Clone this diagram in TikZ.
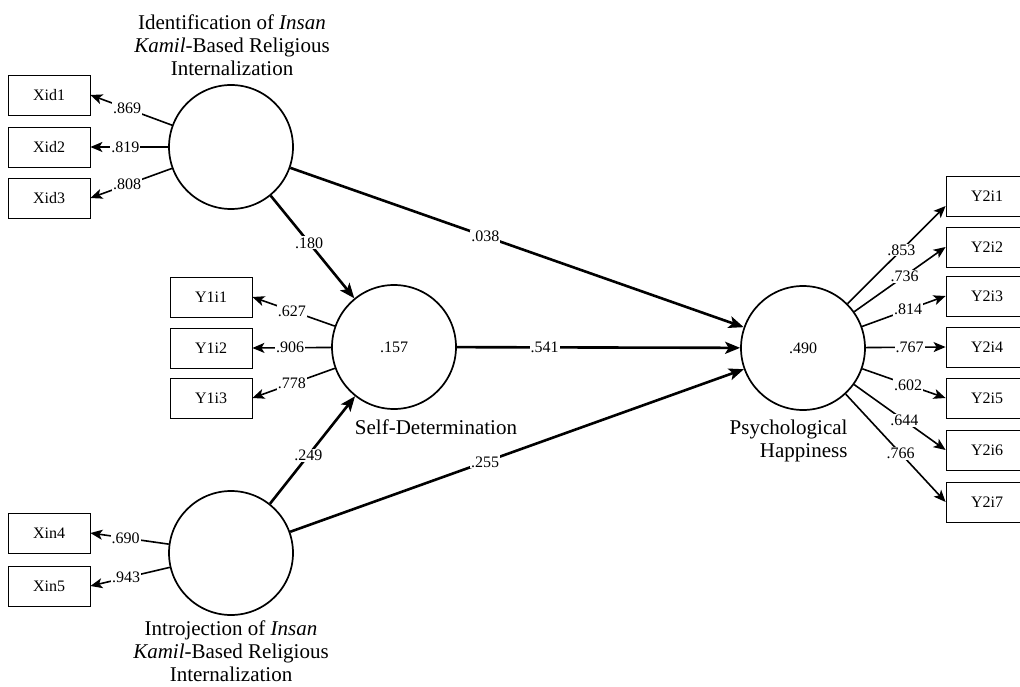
\documentclass[tikz,border=0pt]{standalone}
\usepackage{fontspec}
\setmainfont{Liberation Serif}
\usetikzlibrary{arrows.meta}

\begin{document}
\begin{tikzpicture}[x=1pt,y=-1pt,
    latent/.style={circle,draw,line width=1.7pt,minimum size=124pt,inner sep=0pt,font=\fontsize{16}{18}\selectfont},
    ind/.style={rectangle,draw,line width=0.8pt,minimum width=82pt,minimum height=40pt,font=\fontsize{16}{18}\selectfont},
    load/.style={line width=1.6pt,-{Stealth[length=12pt,width=10pt,inset=3pt]}},
    struct/.style={line width=2.6pt,-{Stealth[length=15pt,width=12pt,inset=3.5pt]}},
    coef/.style={fill=white,inner sep=1pt,font=\fontsize{16}{18}\selectfont},
    lvname/.style={align=center,font=\fontsize{21}{23}\selectfont}]
  \useasboundingbox[fill=white] (0,0) rectangle (1020,687);

  % latent variables
  \node[latent] (id) at (231,147) {};
  \node[latent] (sd) at (394,347) {.157};
  \node[latent] (in) at (231,553) {};
  \node[latent] (ph) at (803,348) {.490};

  % indicators
  \foreach \n/\y in {1/95,2/147,3/198}
    \node[ind] (xid\n) at (49,\y) {Xid\n};
  \foreach \n/\y in {1/297,2/348,3/398}
    \node[ind] (y1i\n) at (211,\y) {Y1i\n};
  \foreach \n/\y in {4/533,5/586}
    \node[ind] (xin\n) at (49,\y) {Xin\n};
  \foreach \n/\y in {1/196,2/247,3/296,4/347,5/398,6/450,7/502}
    \node[ind] (y2i\n) at (987,\y) {Y2i\n};

  % outer loadings
  \foreach \n/\v in {1/.869,2/.819,3/.808}
    \draw[load] (id) -- node[coef,pos=.55] {\v} (xid\n.east);
  \foreach \n/\v in {1/.627,2/.906,3/.778}
    \draw[load] (sd) -- node[coef,pos=.52] {\v} (y1i\n.east);
  \foreach \n/\v in {4/.690,5/.943}
    \draw[load] (in) -- node[coef,pos=.55] {\v} (xin\n.east);
  \draw[load] (ph) -- node[coef,pos=.55] {.853} ([yshift=-10pt]y2i1.west);
  \foreach \n/\v in {2/.736,3/.814,4/.767,5/.602,6/.644,7/.766}
    \draw[load] (ph) -- node[coef,pos=.55] {\v} (y2i\n.west);

  % path coefficients
  \draw[struct] (id) -- node[coef,pos=.46] {.180} (sd);
  \draw[struct] (id) -- node[coef,pos=.43] {.038} (ph);
  \draw[struct] (sd) -- node[coef,pos=.31] {.541} (ph);
  \draw[struct] (in) -- node[coef,pos=.45] {.249} (sd);
  \draw[struct] (in) -- node[coef,pos=.43] {.255} (ph);

  % names
  \node[lvname] (idname) at (232,45) {Identification of \textit{Insan}\\\textit{Kamil}-Based Religious\\Internalization};
  \node[lvname] (inname) at (231,651) {Introjection of \textit{Insan}\\\textit{Kamil}-Based Religious\\Internalization};
  \node[lvname] (sdname) at (436,427) {Self-Determination};
  \node[lvname,align=right,anchor=east] (phname) at (851,441) {Psychological\\Happiness};
\end{tikzpicture}
\end{document}
